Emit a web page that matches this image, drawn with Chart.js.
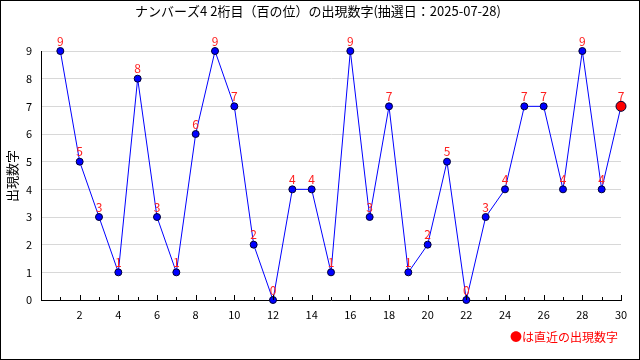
<!DOCTYPE html>
<html>
<head>
<meta charset="utf-8">
<script src="https://cdn.jsdelivr.net/npm/chart.js@4"></script>
<style>
  body { margin: 0; background: #fff; }
  #wrap { width: 640px; height: 360px; }
</style>
</head>
<body>
<div id="wrap"><canvas id="myChart" width="640" height="360"></canvas></div>
<script>
// draw numbers 1..30, hundreds digit drawn each time
const draws = [1,2,3,4,5,6,7,8,9,10,11,12,13,14,15,16,17,18,19,20,21,22,23,24,25,26,27,28,29,30];
const digits = [9,5,3,1,8,3,1,6,9,7,2,0,4,4,1,9,3,7,1,2,5,0,3,4,7,7,4,9,4,7];
const yTicks = [0,1,2,3,4,5,6,7,8,9];
const titleText = 'ナンバーズ4 2桁目（百の位）の出現数字(抽選日：2025-07-28)';
const yTitle = '出現数字';
const noteText = '●は直近の出現数字';

const FONT = '"Noto Sans CJK JP", "DejaVu Sans", sans-serif';
const last = digits.length - 1;

// red value labels, frame, texts and inward x ticks
const extras = {
  id: 'extras',
  afterDraw(chart) {
    const ctx = chart.ctx;
    const xs = chart.scales.x, ys = chart.scales.y;
    ctx.save();
    // x ticks pointing up
    ctx.strokeStyle = '#000';
    ctx.lineWidth = 1;
    for (let v = 1; v <= 30; v++) {
      const px = Math.round(xs.getPixelForValue(v)) + 0.5;
      const len = v % 2 === 0 ? 5 : 3;
      ctx.beginPath();
      ctx.moveTo(px, ys.bottom);
      ctx.lineTo(px, ys.bottom - len);
      ctx.stroke();
    }
    // value labels
    ctx.fillStyle = '#ff2020';
    ctx.font = '12px ' + FONT;
    ctx.textAlign = 'center';
    ctx.textBaseline = 'middle';
    draws.forEach((d, i) => {
      ctx.fillText(String(digits[i]), xs.getPixelForValue(d), ys.getPixelForValue(digits[i]) - 10);
    });
    // title
    ctx.fillStyle = '#000';
    ctx.font = '13px ' + FONT;
    ctx.fillText(titleText, 318, 11);
    // y title
    ctx.save();
    ctx.translate(12, 176);
    ctx.rotate(-Math.PI / 2);
    ctx.font = '13px ' + FONT;
    ctx.fillText(yTitle, 0, 0);
    ctx.restore();
    // note
    ctx.fillStyle = '#ff0000';
    ctx.textAlign = 'right';
    ctx.font = '12px ' + FONT;
    ctx.fillText(noteText, 618, 337);
    // frame
    ctx.strokeStyle = '#000';
    ctx.strokeRect(0.5, 0.5, chart.width - 1, chart.height - 1);
    ctx.restore();
  }
};

new Chart(document.getElementById('myChart'), {
  type: 'line',
  data: {
    datasets: [{
      data: draws.map((d, i) => ({ x: d, y: digits[i] })),
      borderColor: '#0000ff',
      borderWidth: 1,
      tension: 0,
      clip: false,
      pointBackgroundColor: digits.map((v, i) => i === last ? '#ff0000' : '#0000ff'),
      pointBorderColor: '#000033',
      pointBorderWidth: 1,
      pointRadius: digits.map((v, i) => i === last ? 5 : 3.5)
    }]
  },
  options: {
    responsive: false,
    animation: false,
    devicePixelRatio: 1,
    layout: { padding: { top: 51, right: 19, left: 0, bottom: 0 } },
    plugins: { legend: { display: false }, tooltip: { enabled: false } },
    scales: {
      x: {
        type: 'linear',
        min: 0,
        max: 30,
        afterFit(scale) { scale.height = 60; },
        afterBuildTicks(scale) { scale.ticks = draws.map(v => ({ value: v })); },
        grid: { display: false, drawTicks: false },
        border: { color: '#000', width: 1 },
        ticks: {
          autoSkip: false,
          maxRotation: 0,
          padding: 8,
          color: '#000',
          font: { family: FONT, size: 11 },
          callback: v => v % 2 === 0 ? String(v) : ''
        }
      },
      y: {
        min: 0,
        max: 9,
        afterFit(scale) { scale.width = 41; },
        afterBuildTicks(scale) { scale.ticks = yTicks.map(v => ({ value: v })); },
        grid: { color: '#d8d8d8', drawTicks: false },
        border: { color: '#000', width: 1 },
        ticks: {
          padding: 9,
          color: '#000',
          font: { family: FONT, size: 11 }
        }
      }
    }
  },
  plugins: [extras]
});
</script>
</body>
</html>
